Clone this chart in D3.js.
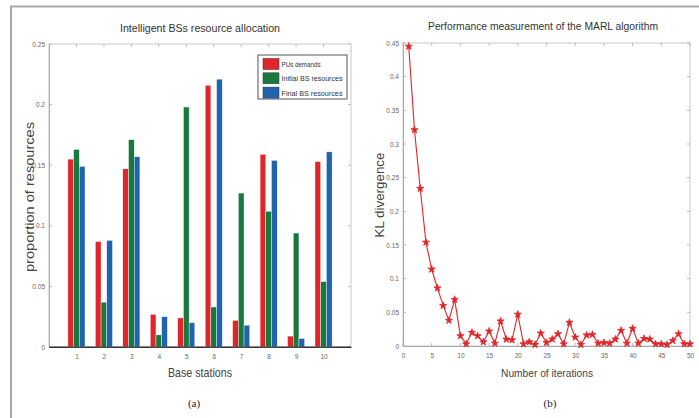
<!DOCTYPE html>
<html>
<head>
<meta charset="utf-8">
<script src="https://cdn.jsdelivr.net/npm/d3@7"></script>
<style>
  body { margin: 0; background: #fff; }
  text { font-family: "Liberation Sans", Arial, sans-serif; }
</style>
</head>
<body>
<svg id="fig" width="699" height="418"></svg>
<script>
// ---- data ----
var stations = [1, 2, 3, 4, 5, 6, 7, 8, 9, 10];
var puDemands = [0.155, 0.087, 0.147, 0.027, 0.024, 0.216, 0.022, 0.159, 0.009, 0.153];
var initialRes = [0.163, 0.037, 0.171, 0.010, 0.198, 0.033, 0.127, 0.112, 0.094, 0.054];
var finalRes = [0.149, 0.088, 0.157, 0.025, 0.020, 0.221, 0.018, 0.154, 0.007, 0.161];
var seriesNames = ["PUs demands", "Initial BS resources", "Final BS resources"];
var seriesColors = ["#e0262b", "#177a3c", "#1f64ad"];
var barTicks = [0, 0.05, 0.1, 0.15, 0.2, 0.25];
var barTickLabels = ["0", "0.05", "0.1", "0.15", "0.2", "0.25"];

var iterations = d3.range(1, 51);
var klDiv = [0.445, 0.321, 0.234, 0.154, 0.114, 0.086, 0.060, 0.038, 0.069, 0.015,
             0.003, 0.020, 0.015, 0.006, 0.022, 0.004, 0.037, 0.010, 0.009, 0.047,
             0.003, 0.006, 0.002, 0.019, 0.005, 0.010, 0.018, 0.003, 0.035, 0.013,
             0.002, 0.016, 0.017, 0.004, 0.005, 0.004, 0.010, 0.023, 0.004, 0.026,
             0.004, 0.011, 0.010, 0.003, 0.003, 0.002, 0.008, 0.018, 0.003, 0.003];
var klTicks = [0, 0.05, 0.1, 0.15, 0.2, 0.25, 0.3, 0.35, 0.4, 0.45];
var iterTicks = [0, 5, 10, 15, 20, 25, 30, 35, 40, 45, 50];

var svg = d3.select("#fig");

// outer frame lines of the figure
svg.append("path")
  .attr("d", "M11,418V6.5H699")
  .attr("fill", "none")
  .attr("stroke", "#a8a8a8")
  .attr("stroke-width", 2);

function boxAxes(g, x, y, w, h, xTicks, yTicks, xFmt, yFmt, bottomColor) {
  // light box
  g.append("rect").attr("x", 0).attr("y", 0).attr("width", w).attr("height", h)
    .attr("fill", "none").attr("stroke", "#c8c8c8").attr("stroke-width", 1);
  // inner ticks
  xTicks.forEach(function(t) {
    g.append("line").attr("x1", x(t)).attr("x2", x(t)).attr("y1", 0).attr("y2", 3)
      .attr("stroke", "#bbb");
    g.append("line").attr("x1", x(t)).attr("x2", x(t)).attr("y1", h).attr("y2", h - 3)
      .attr("stroke", "#bbb");
  });
  yTicks.forEach(function(t) {
    g.append("line").attr("x1", 0).attr("x2", 3).attr("y1", y(t)).attr("y2", y(t))
      .attr("stroke", "#bbb");
    g.append("line").attr("x1", w).attr("x2", w - 3).attr("y1", y(t)).attr("y2", y(t))
      .attr("stroke", "#bbb");
  });
  var xa = g.append("g").attr("transform", "translate(0," + h + ")")
    .call(d3.axisBottom(x).tickValues(xTicks).tickFormat(xFmt).tickSize(0).tickPadding(7));
  var ya = g.append("g")
    .call(d3.axisLeft(y).tickValues(yTicks).tickFormat(yFmt).tickSize(0).tickPadding(4));
  [xa, ya].forEach(function(a) {
    a.selectAll("text").attr("fill", "#666").style("font-size", "6.5px");
  });
  xa.select(".domain").attr("stroke", bottomColor).attr("stroke-width", 1.2);
  ya.select(".domain").attr("stroke", "#aaa");
}

// ---- panel (a): grouped bars ----
var ma = { left: 49, top: 44, w: 302, h: 303 };
var ga = svg.append("g").attr("transform", "translate(" + ma.left + "," + ma.top + ")");
var xa = d3.scaleLinear().domain([0, 11]).range([0, ma.w]);
var ya = d3.scaleLinear().domain([0, 0.25]).range([ma.h, 0]);

boxAxes(ga, xa, ya, ma.w, ma.h, stations, barTicks,
  function(d) { return d; }, function(d) { return barTickLabels[barTicks.indexOf(d)]; }, "#333");

var barW = 5.7;
[puDemands, initialRes, finalRes].forEach(function(vals, s) {
  ga.selectAll(".bar" + s).data(vals).enter().append("rect")
    .attr("x", function(d, i) { return xa(stations[i]) + (s - 1.5) * barW; })
    .attr("y", function(d) { return ya(d); })
    .attr("width", barW)
    .attr("height", function(d) { return ma.h - ya(d); })
    .attr("fill", seriesColors[s])
    .attr("stroke", "#fff").attr("stroke-width", 0.4);
});
// re-draw bottom axis line over bars
ga.append("line").attr("x1", 0).attr("x2", ma.w).attr("y1", ma.h).attr("y2", ma.h)
  .attr("stroke", "#333").attr("stroke-width", 1.2);

// legend
var lg = ga.append("g").attr("transform", "translate(" + (258 - ma.left) + "," + (55 - ma.top) + ")");
lg.append("rect").attr("width", 89).attr("height", 44).attr("fill", "#fff")
  .attr("stroke", "#555").attr("stroke-width", 1);
seriesNames.forEach(function(n, i) {
  lg.append("rect").attr("x", 5).attr("y", 3.5 + i * 14.3).attr("width", 16).attr("height", 11)
    .attr("fill", seriesColors[i]).attr("stroke", "#333").attr("stroke-width", 0.5);
  lg.append("text").attr("x", 23.5).attr("y", 12 + i * 14.3).text(n)
    .attr("fill", "#333").style("font-size", "7.5px")
    .attr("textLength", i === 0 ? 39 : 61).attr("lengthAdjust", "spacingAndGlyphs");
});

svg.append("text").attr("x", 200).attr("y", 32).attr("text-anchor", "middle")
  .text("Intelligent BSs resource allocation").attr("fill", "#333").style("font-size", "11.5px")
  .attr("textLength", 160).attr("lengthAdjust", "spacingAndGlyphs");
svg.append("text").attr("x", 200).attr("y", 377).attr("text-anchor", "middle")
  .text("Base stations").attr("fill", "#444").style("font-size", "13px")
  .attr("textLength", 64).attr("lengthAdjust", "spacingAndGlyphs");
svg.append("text").attr("transform", "translate(34,197) rotate(-90)").attr("text-anchor", "middle")
  .text("proportion of resources").attr("fill", "#444").style("font-size", "13px")
  .attr("textLength", 150).attr("lengthAdjust", "spacingAndGlyphs");
svg.append("text").attr("x", 194).attr("y", 407).attr("text-anchor", "middle")
  .text("(a)").attr("fill", "#222").style("font-size", "11px")
  .style("font-family", "'Liberation Serif', serif");

// ---- panel (b): KL divergence line ----
var mb = { left: 403, top: 43, w: 287, h: 303 };
var gb = svg.append("g").attr("transform", "translate(" + mb.left + "," + mb.top + ")");
var xb = d3.scaleLinear().domain([0, 50]).range([0, mb.w]);
var yb = d3.scaleLinear().domain([0, 0.45]).range([mb.h, 0]);

boxAxes(gb, xb, yb, mb.w, mb.h, iterTicks, klTicks,
  function(d) { return d; }, function(d) { return d3.format("")(d); }, "#aaa");

var line = d3.line()
  .x(function(d, i) { return xb(iterations[i]); })
  .y(function(d) { return yb(d); });
gb.append("path").datum(klDiv).attr("d", line)
  .attr("fill", "none").attr("stroke", "#e0262b").attr("stroke-width", 1.1);
gb.selectAll(".mk").data(klDiv).enter().append("path")
  .attr("transform", function(d, i) { return "translate(" + xb(iterations[i]) + "," + yb(d) + ")"; })
  .attr("d", d3.symbol().type(d3.symbolStar).size(16))
  .attr("fill", "#e0262b").attr("stroke", "#e0262b").attr("stroke-width", 0.8)
  .attr("stroke-linejoin", "round");

svg.append("text").attr("x", 543).attr("y", 30).attr("text-anchor", "middle")
  .text("Performance measurement of the MARL algorithm").attr("fill", "#333").style("font-size", "11px")
  .attr("textLength", 230).attr("lengthAdjust", "spacingAndGlyphs");
svg.append("text").attr("x", 547).attr("y", 377).attr("text-anchor", "middle")
  .text("Number of iterations").attr("fill", "#444").style("font-size", "11.5px")
  .attr("textLength", 92).attr("lengthAdjust", "spacingAndGlyphs");
svg.append("text").attr("transform", "translate(384,195) rotate(-90)").attr("text-anchor", "middle")
  .text("KL divergence").attr("fill", "#444").style("font-size", "12px")
  .attr("textLength", 85).attr("lengthAdjust", "spacingAndGlyphs");
svg.append("text").attr("x", 550).attr("y", 407).attr("text-anchor", "middle")
  .text("(b)").attr("fill", "#222").style("font-size", "11px")
  .style("font-family", "'Liberation Serif', serif");
</script>
</body>
</html>
